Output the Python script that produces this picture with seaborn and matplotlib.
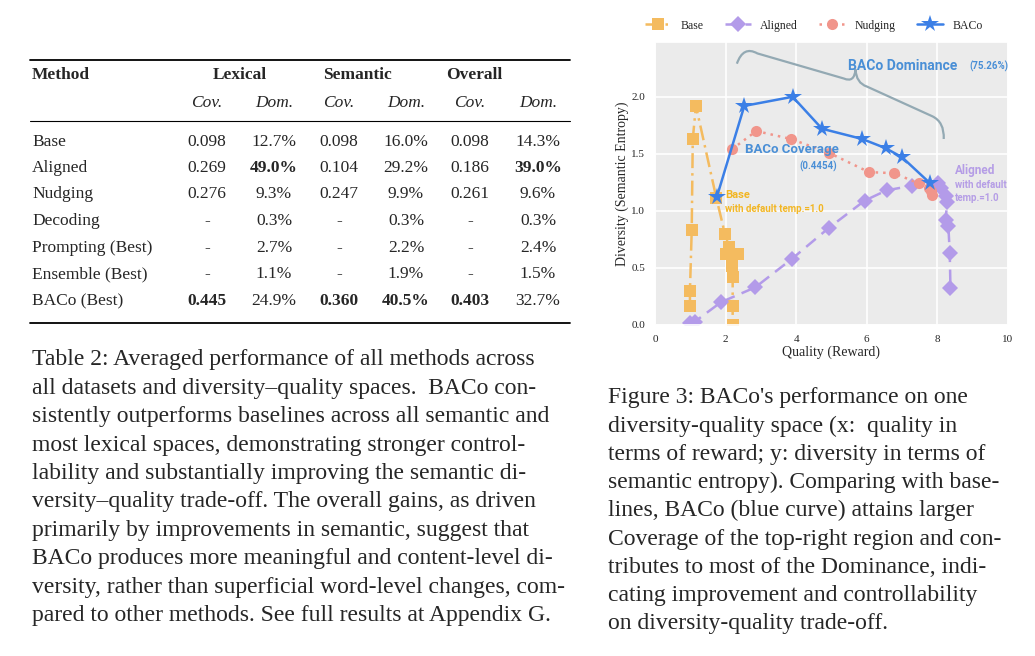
import matplotlib
matplotlib.use('Agg')
import matplotlib.pyplot as plt
from matplotlib.path import Path
from matplotlib.patches import PathPatch
import pandas as pd
import seaborn as sns

# ── Data ──────────────────────────────────────────────────────────────────────
base_x = [0.99, 0.99, 1.04, 1.07, 1.16, 1.74, 1.98, 2.10, 2.00, 2.35, 2.18, 2.20, 2.20, 2.20]
base_y = [0.17, 0.30, 0.83, 1.63, 1.92, 1.11, 0.80, 0.68, 0.62, 0.62, 0.52, 0.42, 0.17, 0.00]
aligned_x = [0.99, 1.13, 1.87, 2.84, 3.88, 4.92, 5.94, 6.56, 7.27, 8.02, 8.09, 8.23, 8.28, 8.23, 8.31, 8.35, 8.37]
aligned_y = [0.02, 0.03, 0.20, 0.33, 0.58, 0.85, 1.09, 1.18, 1.22, 1.24, 1.20, 1.13, 1.08, 0.92, 0.87, 0.63, 0.32]
nudging_x = [2.18, 2.87, 3.85, 4.92, 6.06, 6.78, 7.47, 7.76, 7.81, 7.85]
nudging_y = [1.54, 1.70, 1.63, 1.51, 1.34, 1.33, 1.24, 1.20, 1.17, 1.14]
baco_x = [1.75, 2.53, 3.90, 4.73, 5.87, 6.53, 7.00, 7.80]
baco_y = [1.12, 1.92, 2.00, 1.72, 1.63, 1.55, 1.47, 1.24]

methods = ['Base', 'Aligned', 'Nudging', 'Decoding', 'Prompting (Best)', 'Ensemble (Best)', 'BACo (Best)']
lex_cov = ['0.098', '0.269', '0.276', '-', '-', '-', '0.445']
lex_dom = ['12.7%', '49.0%', '9.3%', '0.3%', '2.7%', '1.1%', '24.9%']
sem_cov = ['0.098', '0.104', '0.247', '-', '-', '-', '0.360']
sem_dom = ['16.0%', '29.2%', '9.9%', '0.3%', '2.2%', '1.9%', '40.5%']
all_cov = ['0.098', '0.186', '0.261', '-', '-', '-', '0.403']
all_dom = ['14.3%', '39.0%', '9.6%', '0.3%', '2.4%', '1.5%', '32.7%']
bold_cells = {(1, 1), (1, 5), (6, 0), (6, 2), (6, 3), (6, 4)}

caption_left = [
    "Table 2: Averaged performance of all methods across",
    "all datasets and diversity\u2013quality spaces.  BACo con-",
    "sistently outperforms baselines across all semantic and",
    "most lexical spaces, demonstrating stronger control-",
    "lability and substantially improving the semantic di-",
    "versity\u2013quality trade-off. The overall gains, as driven",
    "primarily by improvements in semantic, suggest that",
    "BACo produces more meaningful and content-level di-",
    "versity, rather than superficial word-level changes, com-",
    "pared to other methods. See full results at Appendix G.",
]
caption_right = [
    "Figure 3: BACo's performance on one",
    "diversity-quality space (x:  quality in",
    "terms of reward; y: diversity in terms of",
    "semantic entropy). Comparing with base-",
    "lines, BACo (blue curve) attains larger",
    "Coverage of the top-right region and con-",
    "tributes to most of the Dominance, indi-",
    "cating improvement and controllability",
    "on diversity-quality trade-off.",
]

COLORS = {'Base': '#f4bb5f', 'Aligned': '#b39be9', 'Nudging': '#f1958b', 'BACo': '#3b7fe6'}

# ── Figure ────────────────────────────────────────────────────────────────────
sns.set_theme(style='darkgrid', rc={'axes.facecolor': '#ebebeb', 'grid.color': 'white'})
plt.rcParams['font.family'] = ['Liberation Serif', 'DejaVu Serif']
W, H = 1035, 656
fig = plt.figure(figsize=(W / 100, H / 100), dpi=100)
fig.patch.set_facecolor('white')

def px(x, y):
    return x / W, 1 - y / H

# ── Table ─────────────────────────────────────────────────────────────────────
for yy, lw in [(60, 1.3), (121, 0.8), (323, 1.3)]:
    fig.add_artist(plt.Line2D([30 / W, 570 / W], [1 - yy / H] * 2, color='black', lw=lw))
fs = 12.5
fig.text(*px(32, 75), 'Method', fontsize=fs, weight='bold', va='center')
for name, cx in [('Lexical', 240), ('Semantic', 357), ('Overall', 474)]:
    fig.text(*px(cx, 75), name, fontsize=fs, weight='bold', va='center', ha='center')
col_x = [207, 274, 339, 406, 470, 538]
for i, cx in enumerate(col_x):
    fig.text(*px(cx, 103), 'Cov.' if i % 2 == 0 else 'Dom.', fontsize=fs, style='italic',
             va='center', ha='center')
row_y = [142, 168, 194, 221, 248, 274, 301]
cols = [lex_cov, lex_dom, sem_cov, sem_dom, all_cov, all_dom]
for r, m in enumerate(methods):
    fig.text(*px(32, row_y[r]), m, fontsize=fs, va='center')
    for c, cx in enumerate(col_x):
        fig.text(*px(cx, row_y[r]), cols[c][r], fontsize=fs, va='center', ha='center',
                 weight='bold' if (r, c) in bold_cells else 'normal')

for i, line in enumerate(caption_left):
    fig.text(*px(32, 360 + i * 28.4), line, fontsize=17, va='center')
for i, line in enumerate(caption_right):
    fig.text(*px(608, 398 + i * 28.2), line, fontsize=17, va='center')

# ── Chart ─────────────────────────────────────────────────────────────────────
ax = fig.add_axes([655 / W, 1 - 325 / H, (1008 - 655) / W, (325 - 42) / H])
series = [
    ('Base', base_x, base_y, 's', (6, 2, 1, 2), 9),
    ('Aligned', aligned_x, aligned_y, 'D', (5, 3), 8),
    ('Nudging', nudging_x, nudging_y, 'o', (1, 2), 8),
    ('BACo', baco_x, baco_y, '*', '', 13),
]
for name, xs, ys, mk, dash, ms in series:
    df = pd.DataFrame({'x': xs, 'y': ys})
    sns.lineplot(data=df, x='x', y='y', sort=False, estimator=None, ax=ax, color=COLORS[name],
                 marker=mk, markersize=ms, markeredgewidth=0, dashes=False, lw=1.8,
                 label=name, linestyle=(0, dash) if dash else '-')
ax.set_xlim(0, 10)
ax.set_ylim(0, 2.48)
ax.set_xticks([0, 2, 4, 6, 8, 10])
ax.set_yticks([0, 0.5, 1.0, 1.5, 2.0])
ax.set_yticklabels(['0.0', '0.5', '1.0', '1.5', '2.0'])
ax.tick_params(labelsize=8, pad=1)
ax.set_xlabel('Quality (Reward)', fontsize=10, labelpad=1)
ax.set_ylabel('Diversity (Semantic Entropy)', fontsize=10, labelpad=2)
ax.grid(which='major', color='white', lw=1.2)
ax.legend(loc='lower center', bbox_to_anchor=(0.45, 1.02), ncol=4, frameon=False,
          fontsize=8.5, handlelength=2.2, columnspacing=1.8, borderaxespad=0)

# curly brace for dominance
verts = [(2.32, 2.29), (2.5, 2.45), (2.9, 2.38),
         (5.35, 2.16),
         (5.65, 2.12), (5.68, 2.24),
         (5.7, 2.12), (6.0, 2.09),
         (7.85, 1.83),
         (8.2, 1.78), (8.18, 1.63)]
codes = [Path.MOVETO, Path.CURVE3, Path.CURVE3,
         Path.LINETO,
         Path.CURVE3, Path.CURVE3,
         Path.CURVE3, Path.CURVE3,
         Path.LINETO,
         Path.CURVE3, Path.CURVE3]
ax.add_patch(PathPatch(Path(verts, codes), fill=False, edgecolor='#93a9b3', lw=1.6))

sans = ['Roboto', 'DejaVu Sans']
ax.text(5.48, 2.27, 'BACo Dominance', color='#4a8fd6', fontsize=10, weight='bold', family=sans,
        va='center')
ax.text(8.9, 2.27, '(75.26%)', color='#4a8fd6', fontsize=7, weight='bold', family=sans, va='center')
ax.text(2.55, 1.54, 'BACo Coverage', color='#4a8fd6', fontsize=9.5, weight='bold', family=sans,
        va='center')
ax.text(4.1, 1.39, '(0.4454)', color='#4a8fd6', fontsize=7, weight='bold', family=sans, va='center')
ax.text(1.99, 1.14, 'Base', color='#f2b624', fontsize=8, weight='bold', family=sans, va='center')
ax.text(1.99, 1.02, 'with default temp.=1.0', color='#f2b624', fontsize=7, weight='bold',
        family=sans, va='center')
ax.text(8.5, 1.35, 'Aligned', color='#b59de6', fontsize=8.5, weight='bold', family=sans, va='center')
ax.text(8.5, 1.23, 'with default', color='#b59de6', fontsize=7, weight='bold', family=sans, va='center')
ax.text(8.5, 1.11, 'temp.=1.0', color='#b59de6', fontsize=7, weight='bold', family=sans, va='center')

fig.savefig('out.png', dpi=100, facecolor='white')
